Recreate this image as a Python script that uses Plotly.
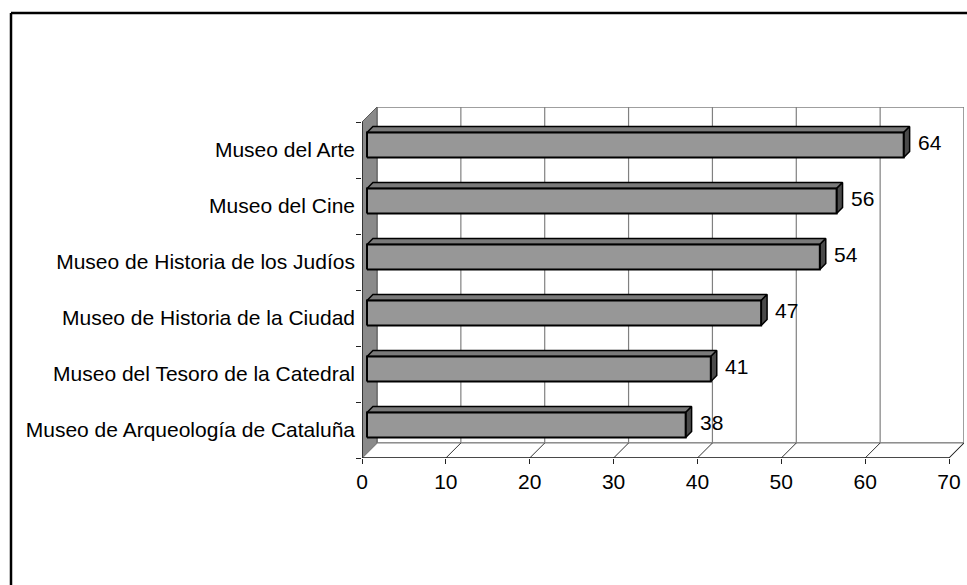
import plotly.graph_objects as go

categories = [
    "Museo de Arqueología de Cataluña",
    "Museo del Tesoro de la Catedral",
    "Museo de Historia de la Ciudad",
    "Museo de Historia de los Judíos",
    "Museo del Cine",
    "Museo del Arte",
]
values = [38, 41, 47, 54, 56, 64]
x_ticks = [0, 10, 20, 30, 40, 50, 60, 70]

FONT = "Liberation Sans Narrow, Arial Narrow, Liberation Sans, Arial, sans-serif"
FS = 21

# pixel geometry (body margin removed via post_script)
W, H = 967, 585
L = 362
T = 107
R = W - 964
B = H - 458
XMAX_FRONT = 70
pw = W - L - R
ph = H - T - B
px_per_x = 587 / XMAX_FRONT
px_per_y = 56.0
x_range = [0, pw / px_per_x]
y_range = [0, ph / px_per_y]
n = len(categories)

depth_px = 15
Dx = depth_px / px_per_x
Dy = depth_px / px_per_y
d0, d1 = 1 / 3, 0.73
half_h = 12.5 / px_per_y

fig = go.Figure()

shapes = []
wall_grey = "#808080"
# back wall
shapes.append(dict(type="rect", xref="x", yref="y", x0=Dx, y0=Dy, x1=XMAX_FRONT + Dx, y1=n + Dy,
                   fillcolor="white", line=dict(color=wall_grey, width=1.5), layer="below"))
for t in x_ticks[1:-1]:
    shapes.append(dict(type="line", xref="x", yref="y", x0=t + Dx, y0=Dy, x1=t + Dx, y1=n + Dy,
                       line=dict(color=wall_grey, width=1.2), layer="below"))
# side wall
shapes.append(dict(type="path", xref="x", yref="y",
                   path=f"M 0,0 L {Dx},{Dy} L {Dx},{n+Dy} L 0,{n} Z",
                   fillcolor="#8a8a8a", line=dict(color="#5a5a5a", width=1), layer="below"))
# floor
shapes.append(dict(type="path", xref="x", yref="y",
                   path=f"M 0,0 L {XMAX_FRONT},0 L {XMAX_FRONT+Dx},{Dy} L {Dx},{Dy} Z",
                   fillcolor="white", line=dict(color=wall_grey, width=1.2), layer="below"))
for t in x_ticks[1:]:
    shapes.append(dict(type="line", xref="x", yref="y", x0=t, y0=0, x1=t + Dx, y1=Dy,
                       line=dict(color="#333333", width=1), layer="below"))
# front axes
shapes.append(dict(type="line", xref="x", yref="y", x0=0, y0=0, x1=XMAX_FRONT, y1=0,
                   line=dict(color="#222222", width=1.5), layer="below"))
shapes.append(dict(type="line", xref="x", yref="y", x0=0, y0=0, x1=0, y1=n,
                   line=dict(color="#222222", width=1.5), layer="below"))
# outer frame (left and top)
fx = (11 - L) / pw
fy = 1 + (T - 13) / ph
shapes.append(dict(type="line", xref="paper", yref="paper", x0=fx, y0=fy, x1=1 + (R + 10) / pw, y1=fy,
                   line=dict(color="black", width=2.5)))
shapes.append(dict(type="line", xref="paper", yref="paper", x0=fx, y0=fy, x1=fx, y1=-(B + 10) / ph,
                   line=dict(color="black", width=2.5)))

bx1 = d1 * Dx
# bars as 3D boxes
for i, v in enumerate(values):
    c = i + 0.5
    ax0 = d0 * Dx
    ay0 = d0 * Dy
    by1 = d1 * Dy
    yb, yt = c - half_h, c + half_h
    # top face
    fig.add_trace(go.Scatter(
        x=[ax0, v + ax0, v + bx1, bx1, ax0],
        y=[yt + ay0, yt + ay0, yt + by1, yt + by1, yt + ay0],
        mode="lines", fill="toself", fillcolor="#7a7a7a",
        line=dict(color="black", width=1.5), hoverinfo="skip", showlegend=False))
    # side face
    fig.add_trace(go.Scatter(
        x=[v + ax0, v + bx1, v + bx1, v + ax0, v + ax0],
        y=[yb + ay0, yb + by1, yt + by1, yt + ay0, yb + ay0],
        mode="lines", fill="toself", fillcolor="#4a4a4a",
        line=dict(color="black", width=1.5), hoverinfo="skip", showlegend=False))
    # front face
    fig.add_trace(go.Scatter(
        x=[ax0, v + ax0, v + ax0, ax0, ax0],
        y=[yb + ay0, yb + ay0, yt + ay0, yt + ay0, yb + ay0],
        mode="lines", fill="toself", fillcolor="#979797",
        line=dict(color="black", width=2), hoverinfo="skip", showlegend=False))

# data labels
annotations = []
for i, v in enumerate(values):
    annotations.append(dict(
        x=v + bx1, y=i + 0.5 + 0.5 * (d0 + d1) * Dy, xref="x", yref="y",
        text=str(v), showarrow=False, xanchor="left", yanchor="middle", xshift=6,
        font=dict(family=FONT, size=FS, color="black")))

fig.update_layout(
    width=W, height=H,
    margin=dict(l=L, r=R, t=T, b=B),
    paper_bgcolor="white", plot_bgcolor="white",
    shapes=shapes, annotations=annotations,
    font=dict(family=FONT, size=FS, color="black"),
    hovermode=False,
    xaxis=dict(range=x_range, tickvals=x_ticks, ticktext=[str(t) for t in x_ticks],
               showgrid=False, zeroline=False, showline=False, automargin=False,
               ticks="outside", ticklen=5, tickcolor="#222222", tickwidth=1,
               tickfont=dict(family=FONT, size=FS)),
    yaxis=dict(range=y_range, tickvals=[i + 0.5 for i in range(n)], ticktext=categories,
               showgrid=False, zeroline=False, showline=False, automargin=False,
               ticks="", ticklabelstandoff=6,
               minor=dict(tickvals=list(range(n + 1)), ticks="outside", ticklen=5,
                          tickcolor="#222222", showgrid=False),
               tickfont=dict(family=FONT, size=FS)),
)

fig.write_html("out.html", config={"displayModeBar": False},
               post_script="document.body.style.margin='0';document.body.style.overflow='hidden';")
